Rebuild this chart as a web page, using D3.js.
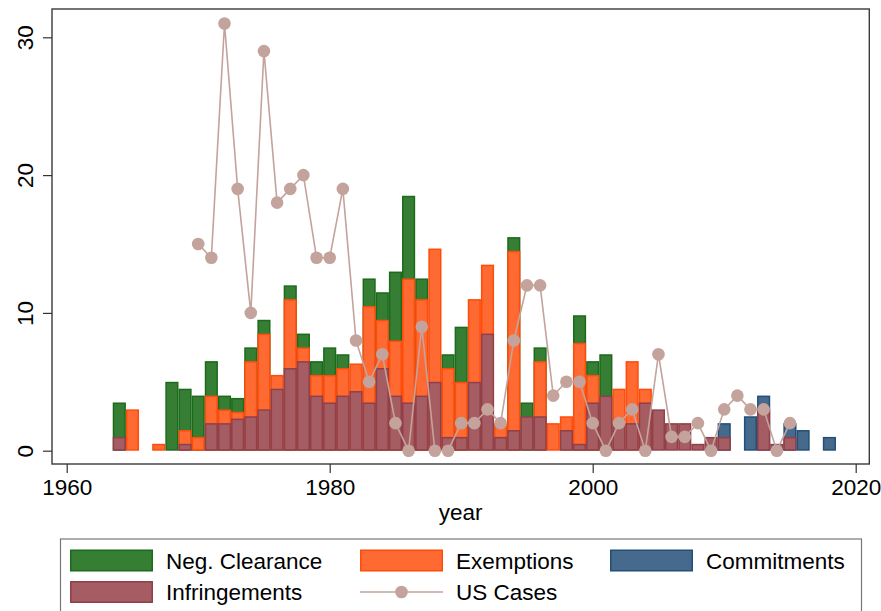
<!DOCTYPE html>
<html>
<head>
<meta charset="utf-8">
<script src="https://cdn.jsdelivr.net/npm/d3@7"></script>
<style>
  html, body { margin: 0; padding: 0; background: #fff; }
  svg { display: block; font-family: "Liberation Sans", Arial, sans-serif; }
</style>
</head>
<body>
<svg id="chart" width="881" height="611"></svg>
<script>
// ---------------- data ----------------
const years          = [1964,1965,1967,1968,1969,1970,1971,1972,1973,1974,1975,1976,1977,1978,1979,1980,1981,1982,1983,1984,1985,1986,1987,1988,1989,1990,1991,1992,1993,1994,1995,1996,1997,1998,1999,2000,2001,2002,2003,2004,2005,2006,2007,2008,2009,2010,2012,2013,2014,2015,2016,2018];
const infringements  = [1,   0,   0,   0,   0.5, 0,   2,   2,   2.33,2.5, 3,   4.5, 6,   6.5, 4,   3.5, 4,   4.33,3.5, 6,   4,   3.5, 4,   5,   1,   1,   5,   8.5, 1,   1.5, 2.5, 2.5, 0,   1.5, 0.5, 3.5, 4,   2,   2,   3.5, 3,   2,   2,   0.5, 1,   1,   0,   3,   0.5, 1,   0,   0];
const exemptions     = [0,   3,   0.5, 0,   1,   1,   2,   1,   0.5, 4,   5.5, 1,   5,   1,   1.5, 2,   2,   2,   7,   3.5, 4,   9,   7,   9.67,5,   4,   6,   5,   1,   13,  0,   4,   2,   1,   7.33,2,   0,   2.5, 4.5, 1,   0,   0,   0,   0,   0,   0,   0,   0,   0,   0,   0,   0];
const negClearance   = [2.5, 0,   0,   5,   3,   3,   2.5, 1,   1,   1,   1,   0,   1,   1,   1,   2,   1,   0,   2,   2,   5,   6,   1.5, 0,   1,   4,   0,   0,   0,   1,   1,   1,   0,   0,   2,   1,   3,   0,   0,   0,   0,   0,   0,   0,   0,   0,   0,   0,   0,   0,   0,   0];
const commitments    = [0,   0,   0,   0,   0,   0,   0,   0,   0,   0,   0,   0,   0,   0,   0,   0,   0,   0,   0,   0,   0,   0,   0,   0,   0,   0,   0,   0,   0,   0,   0,   0,   0,   0,   0,   0,   0,   0,   0,   0,   0,   0,   0,   0,   0,   1,   2.5, 1,   0,   1,   1.5, 1];

const usYears = [1970,1971,1972,1973,1974,1975,1976,1977,1978,1979,1980,1981,1982,1983,1984,1985,1986,1987,1988,1989,1990,1991,1992,1993,1994,1995,1996,1997,1998,1999,2000,2001,2002,2003,2004,2005,2006,2007,2008,2009,2010,2011,2012,2013,2014,2015];
const usCases = [15,  14,  31,  19,  10,  29,  18,  19,  20,  14,  14,  19,  8,   5,   7,   2,   0,   9,   0,   0,   2,   2,   3,   2,   8,   12,  12,  4,   5,   5,   2,   0,   2,   3,   0,   7,   1,   1,   2,   0,   3,   4,   3,   3,   0,   2];

const xTicks = [1960, 1980, 2000, 2020];
const yTicks = [0, 10, 20, 30];
const xTitle = "year";

// ---------------- styles ----------------
const C = {
  nc:   { fill: "#367e34", stroke: "#1b6b1b" },
  ex:   { fill: "#ff6a32", stroke: "#ff4c0a" },
  inf:  { fill: "#a55c63", stroke: "#913f49" },
  com:  { fill: "#466a8c", stroke: "#214f79" },
  us:   "#c3a39c"
};
const FONT = 22.5;

const svg = d3.select("#chart");
const x = d3.scaleLinear().domain([1960, 2020]).range([66.7, 855.7]);
const y = d3.scaleLinear().domain([0, 30]).range([450.7, 37.3]);
const frame = { l: 52, r: 869.3, t: 9, b: 464 };

// ---------------- bars ----------------
const rows = years.map((yr, i) => ({
  year: yr, inf: infringements[i], ex: exemptions[i], nc: negClearance[i], com: commitments[i]
}));
const bw = x(1) - x(0);
const barG = svg.append("g");
function layer(key, topFn, cond) {
  barG.append("g").selectAll("rect")
    .data(rows.filter(cond))
    .join("rect")
    .attr("x", d => x(d.year - 0.5) + 0.75)
    .attr("width", bw - 1.5)
    .attr("y", d => y(topFn(d)) + 0.75)
    .attr("height", d => Math.max(0, y(0) - y(topFn(d)) - 1.5))
    .attr("fill", C[key].fill)
    .attr("stroke", C[key].stroke)
    .attr("stroke-width", 1.5);
}
layer("nc",  d => d.inf + d.ex + d.nc, d => d.nc > 0);
layer("ex",  d => d.inf + d.ex,        d => d.ex > 0);
layer("com", d => d.inf + d.com,       d => d.com > 0);
layer("inf", d => d.inf,               d => d.inf > 0);

// ---------------- US cases ----------------
const usData = usYears.map((yr, i) => ({ year: yr, v: usCases[i] }));
svg.append("path")
  .datum(usData)
  .attr("fill", "none")
  .attr("stroke", C.us)
  .attr("stroke-width", 1.6)
  .attr("d", d3.line().x(d => x(d.year)).y(d => y(d.v)));
svg.append("g").selectAll("circle")
  .data(usData)
  .join("circle")
  .attr("cx", d => x(d.year))
  .attr("cy", d => y(d.v))
  .attr("r", 6.3)
  .attr("fill", C.us);

// ---------------- frame & axes ----------------
svg.append("rect")
  .attr("x", frame.l).attr("y", frame.t)
  .attr("width", frame.r - frame.l).attr("height", frame.b - frame.t)
  .attr("fill", "none").attr("stroke", "#3a3a3a").attr("stroke-width", 1.4);

const xAxis = svg.append("g")
  .attr("transform", `translate(0,${frame.b})`)
  .call(d3.axisBottom(x).tickValues(xTicks).tickFormat(d3.format("d")).tickSize(9).tickPadding(6));
xAxis.select(".domain").remove();
xAxis.selectAll(".tick line").attr("stroke", "#333").attr("stroke-width", 1.2);
xAxis.selectAll(".tick text").attr("font-size", FONT).attr("fill", "#000")
  .attr("font-family", "Liberation Sans, Arial, sans-serif");

const yAxis = svg.append("g")
  .attr("transform", `translate(${frame.l},0)`)
  .call(d3.axisLeft(y).tickValues(yTicks).tickSize(9).tickPadding(0));
yAxis.select(".domain").remove();
yAxis.selectAll(".tick line").attr("stroke", "#333").attr("stroke-width", 1.2);
yAxis.selectAll(".tick text")
  .attr("font-size", FONT).attr("fill", "#000")
  .attr("font-family", "Liberation Sans, Arial, sans-serif")
  .attr("x", null).attr("dy", null)
  .attr("text-anchor", "middle")
  .attr("transform", "translate(-19,0) rotate(-90)");

svg.append("text")
  .attr("x", (frame.l + frame.r) / 2)
  .attr("y", 520)
  .attr("text-anchor", "middle")
  .attr("font-size", FONT)
  .text(xTitle);

// ---------------- legend ----------------
const legendItems = [
  { label: "Neg. Clearance", key: "nc",  col: 0, row: 0 },
  { label: "Exemptions",     key: "ex",  col: 1, row: 0 },
  { label: "Commitments",    key: "com", col: 2, row: 0 },
  { label: "Infringements",  key: "inf", col: 0, row: 1 },
  { label: "US Cases",       key: "us",  col: 1, row: 1 }
];
const colX = [70, 360, 610];
const rowY = [549.5, 581];
const lg = svg.append("g");
lg.append("rect")
  .attr("x", 60.5).attr("y", 539)
  .attr("width", 801).attr("height", 90)
  .attr("fill", "#fff").attr("stroke", "#777").attr("stroke-width", 1.2);
legendItems.forEach(it => {
  const gx = colX[it.col], gy = rowY[it.row];
  if (it.key === "us") {
    lg.append("line").attr("x1", gx).attr("x2", gx + 83)
      .attr("y1", gy + 11).attr("y2", gy + 11)
      .attr("stroke", C.us).attr("stroke-width", 1.6);
    lg.append("circle").attr("cx", gx + 41.5).attr("cy", gy + 11).attr("r", 6.3).attr("fill", C.us);
  } else {
    lg.append("rect").attr("x", gx + 0.75).attr("y", gy + 0.75)
      .attr("width", 81.5).attr("height", 20.5)
      .attr("fill", C[it.key].fill).attr("stroke", C[it.key].stroke).attr("stroke-width", 1.5);
  }
  lg.append("text").attr("x", gx + 96).attr("y", gy + 19)
    .attr("font-size", FONT).attr("fill", "#000").text(it.label);
});
</script>
</body>
</html>
